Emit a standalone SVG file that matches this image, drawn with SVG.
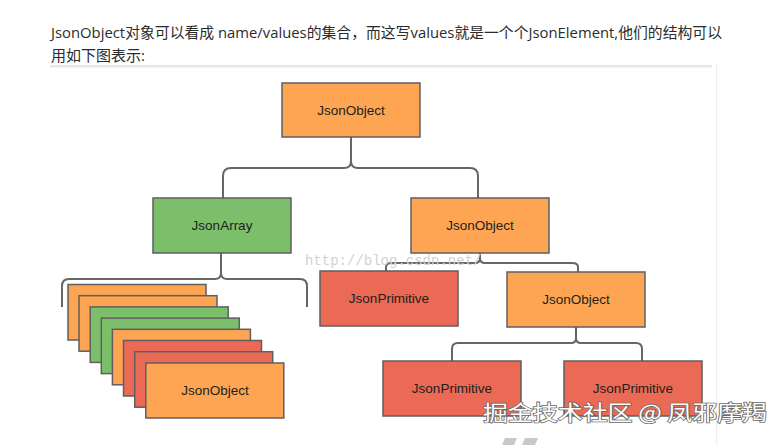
<svg xmlns="http://www.w3.org/2000/svg" width="784" height="445" viewBox="0 0 784 445">
<style>
.hdr{font-family:"Open Sans","Noto Sans CJK SC",sans-serif;font-size:15px;fill:#2b2b2b}
.box{stroke:#5f5f5f;stroke-width:1.5}
.or{fill:#FDA553}
.gr{fill:#7CBF6B}
.rd{fill:#EB6A55}
.lbl{font-family:"Liberation Sans",Arial,sans-serif;font-size:13.5px;fill:#1e1e1e;text-anchor:middle}
.con{fill:none;stroke:#666;stroke-width:2}
.wm1{font-family:"Liberation Mono","DejaVu Sans Mono",monospace;font-size:14px;fill:#d2d2d2}
.wm2{font-family:"Noto Sans CJK SC",sans-serif;font-size:21px;fill:#fff;stroke:#6a6a6a;stroke-width:1.6;paint-order:stroke}
</style>
<rect width="784" height="445" fill="#fff"/>
<text class="hdr" x="51" y="38" textLength="671" lengthAdjust="spacingAndGlyphs">JsonObject对象可以看成 name/values的集合，而这写values就是一个个JsonElement,他们的结构可以</text>
<text class="hdr" x="51" y="61">用如下图表示:</text>
<rect x="50" y="65" width="662" height="2.5" fill="#e6e6e6"/>
<rect x="716" y="65" width="1.2" height="380" fill="#eeeeee"/>

<g id="connectors">
<path class="con" d="M351,137 L351,161 Q351,168 344,168 L231,168 Q223,168 223,176 L223,198"/>
<path class="con" d="M351,161 Q351,168 358,168 L470,168 Q478,168 478,176 L478,198"/>
<path class="con" d="M221,253 L221,273 Q221,279 215,279 L69,279 Q62,279 62,286 L62,307"/>
<path class="con" d="M221,273 Q221,279 227,279 L300,279 Q307,279 307,286 L307,307"/>
<path class="con" d="M480,253 L480,258 Q480,263 475,263 L392,263 Q386,263 386,267 L386,271"/>
<path class="con" d="M480,258 Q480,263 485,263 L572,263 Q578,263 578,267 L578,272"/>
<path class="con" d="M576,327 L576,338 Q576,343 571,343 L458,343 Q452,343 452,349 L452,361"/>
<path class="con" d="M576,338 Q576,343 581,343 L636,343 Q642,343 642,349 L642,361"/>
</g>

<g id="root"><rect class="box or" x="282" y="83" width="138" height="54"/><text class="lbl" x="351" y="115">JsonObject</text></g>
<g id="array"><rect class="box gr" x="153" y="198" width="138" height="55"/><text class="lbl" x="222" y="230">JsonArray</text></g>
<g id="obj2"><rect class="box or" x="411" y="198" width="138" height="55"/><text class="lbl" x="480" y="230">JsonObject</text></g>
<g id="prim1"><rect class="box rd" x="320" y="271" width="138" height="55"/><text class="lbl" x="389" y="303">JsonPrimitive</text></g>
<g id="obj3"><rect class="box or" x="507" y="272" width="138" height="55"/><text class="lbl" x="576" y="304">JsonObject</text></g>
<g id="prim2"><rect class="box rd" x="383" y="361" width="138" height="55"/><text class="lbl" x="452" y="393">JsonPrimitive</text></g>
<g id="prim3"><rect class="box rd" x="564" y="361" width="138" height="55"/><text class="lbl" x="633" y="393">JsonPrimitive</text></g>

<g id="stack">
<rect class="box or" x="68" y="284.5" width="138" height="55.5"/>
<rect class="box or" x="79" y="295.7" width="138" height="55.5"/>
<rect class="box gr" x="90.2" y="306.9" width="138" height="55.5"/>
<rect class="box gr" x="101.3" y="318.1" width="138" height="55.5"/>
<rect class="box or" x="112.4" y="329.3" width="138" height="55.5"/>
<rect class="box rd" x="123.5" y="340.5" width="138" height="55.5"/>
<rect class="box rd" x="134.7" y="351.7" width="138" height="55.5"/>
<rect class="box or" x="145.8" y="363" width="138" height="55"/>
<text class="lbl" x="215" y="395">JsonObject</text>
</g>

<text class="wm1" x="305" y="265">http://blog.csdn.net/</text>
<text class="wm2" x="483" y="420" textLength="284" lengthAdjust="spacingAndGlyphs">掘金技术社区 @ 凤邪摩羯</text>
<polygon points="505,438 517,438 514,445 502,445" fill="#c8c8c8"/>
<polygon points="525,438 538,438 535,445 522,445" fill="#c8c8c8"/>
</svg>
